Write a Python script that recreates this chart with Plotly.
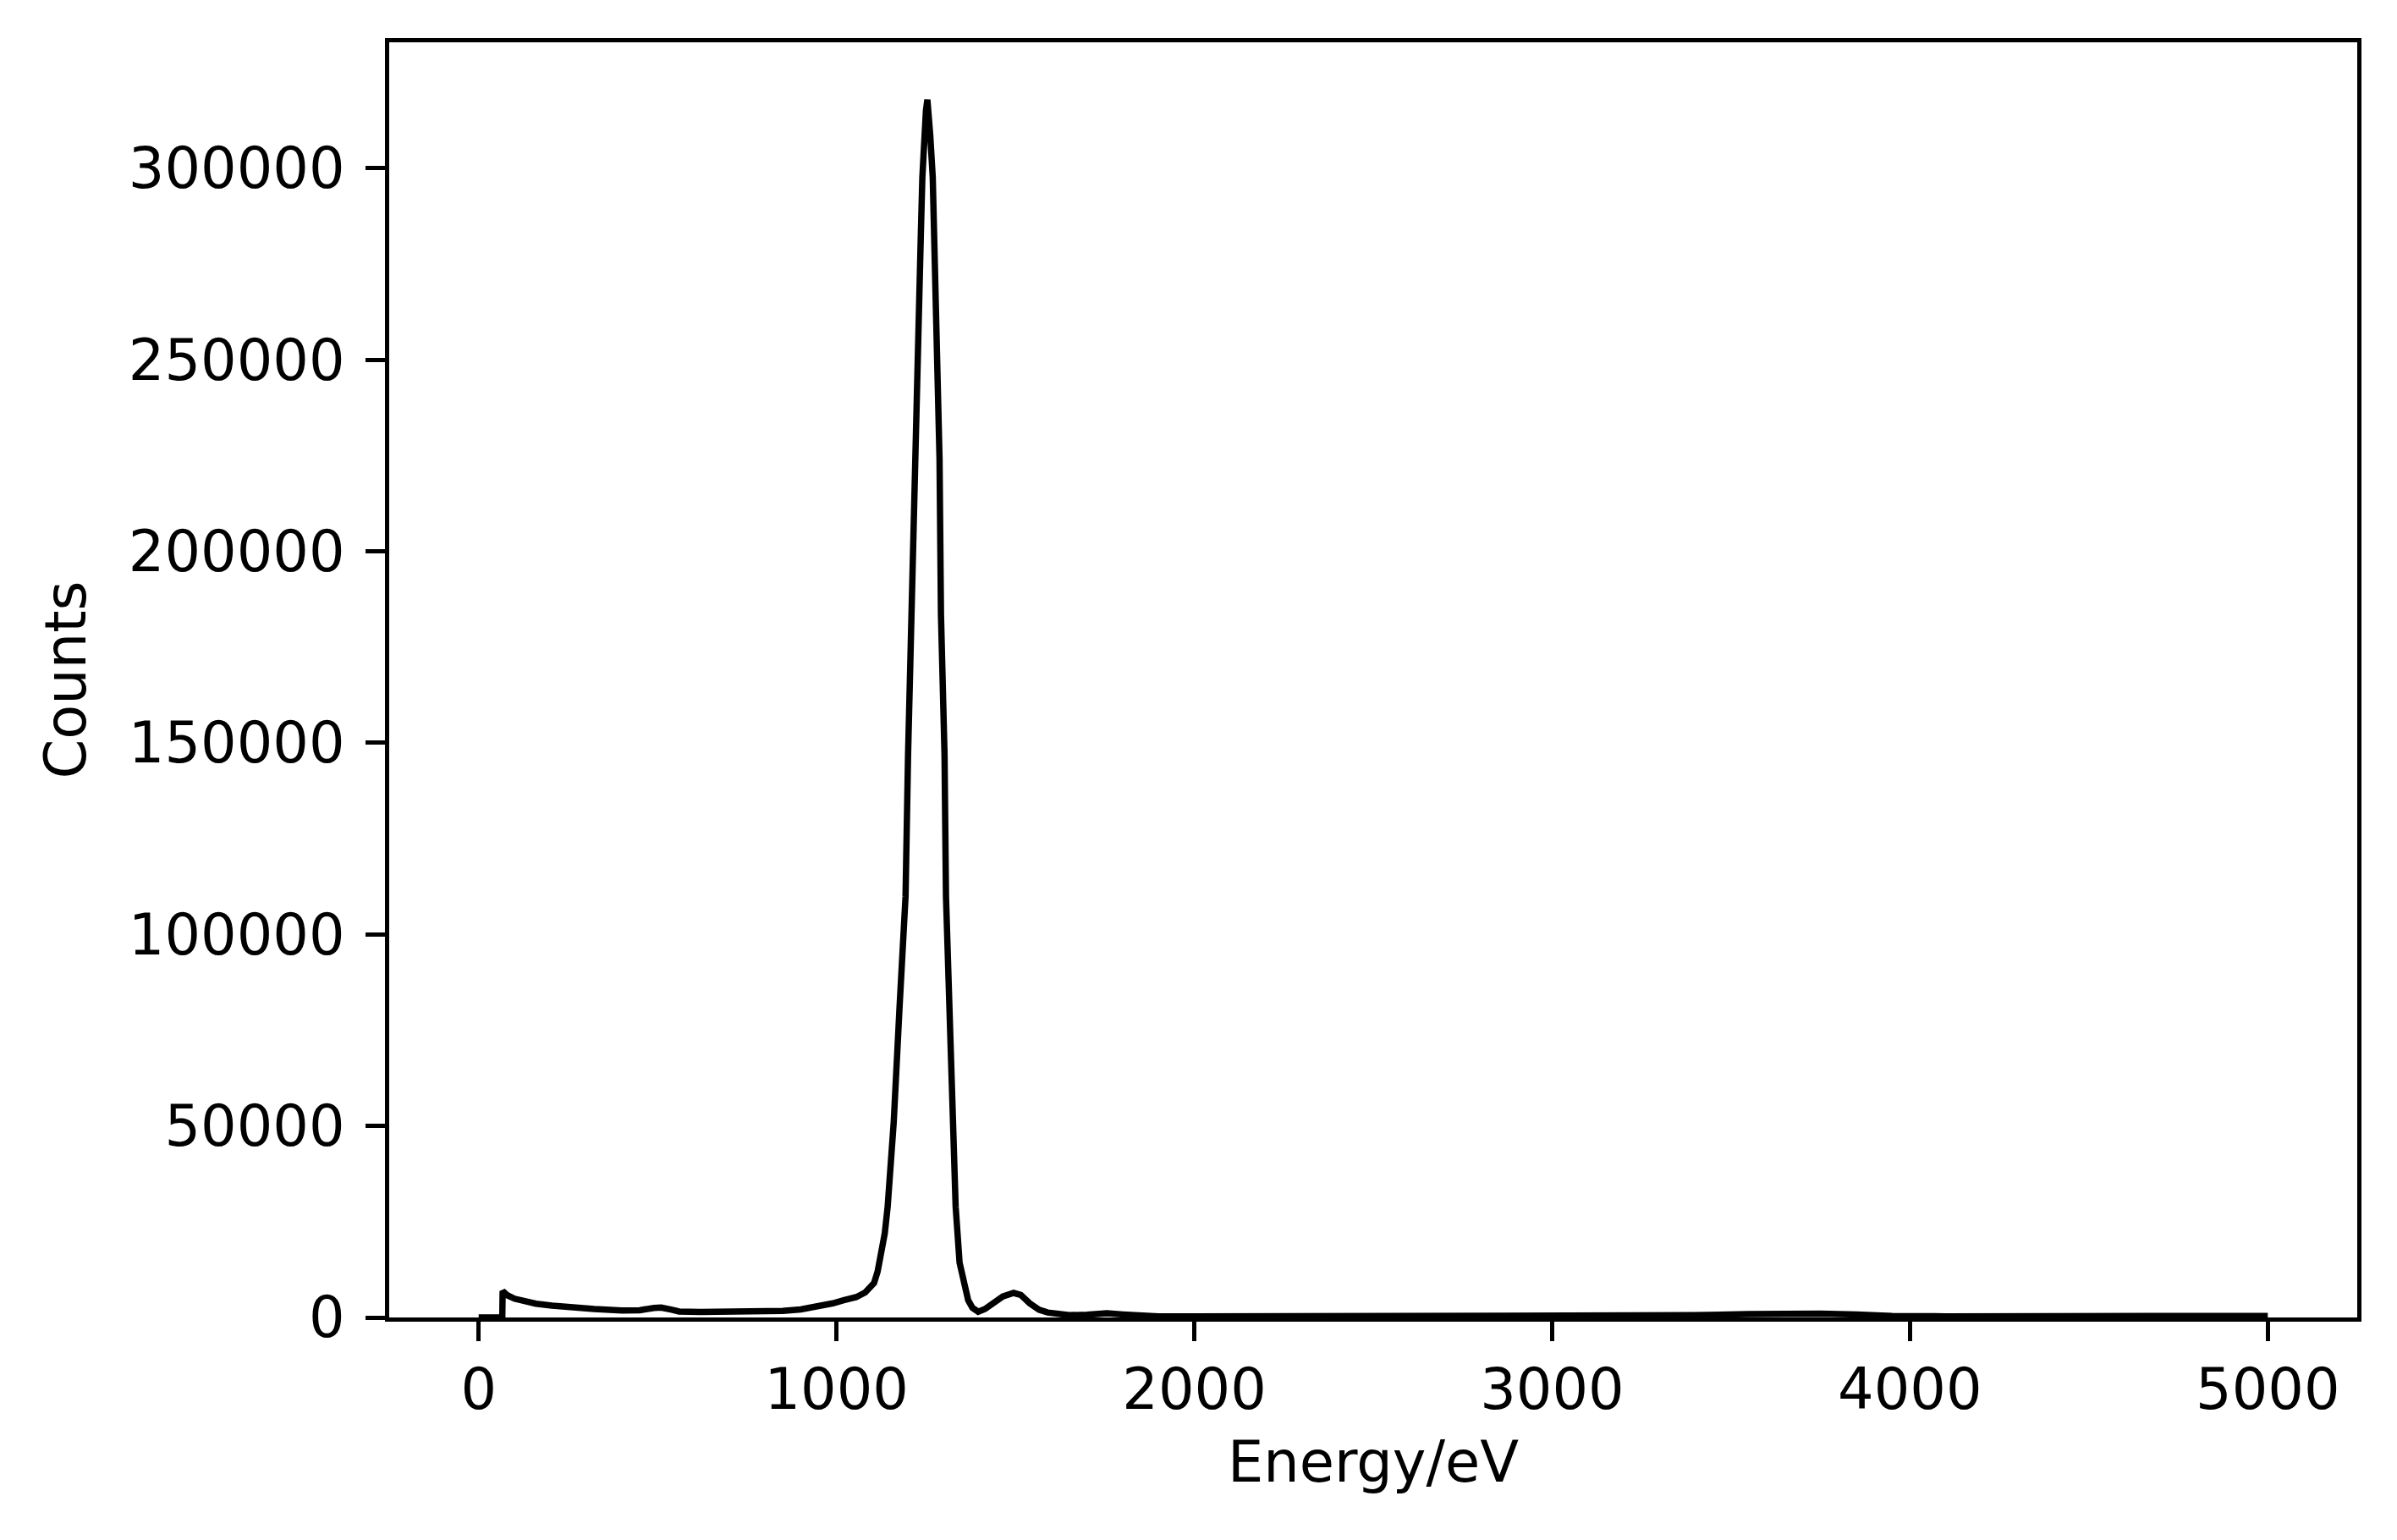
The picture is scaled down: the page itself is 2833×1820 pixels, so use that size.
import plotly.graph_objects as go

# Energy (eV) and counts
energy = [0, 66, 67, 80, 100, 127, 160, 205, 260, 323, 400, 450, 490, 510, 540, 560,
          620, 680, 740, 800, 850, 900, 950, 990, 1020, 1055, 1080, 1095, 1105, 1115,
          1125, 1135, 1143, 1160, 1176, 1193, 1200, 1209, 1217, 1224, 1228, 1236, 1240,
          1245, 1250, 1254, 1258, 1262, 1269, 1273, 1278, 1283, 1288, 1292, 1302, 1306,
          1316, 1325, 1333, 1344, 1356, 1368, 1380, 1396, 1415, 1440, 1465, 1495, 1515,
          1540, 1566, 1590, 1614, 1650, 1700, 1756, 1800, 1850, 1900, 2000, 2150, 2300,
          2450, 2600, 2800, 3000, 3200, 3400, 3550, 3650, 3750, 3850, 3950, 4100, 4400,
          4700, 4850, 5000]
counts = [0, 0, 6900, 5800, 4900, 4200, 3600, 3100, 2600, 2200, 1800, 1900, 2500, 2600,
          2000, 1550, 1450, 1450, 1450, 1500, 1700, 2100, 2800, 3700, 4500, 5300, 6500,
          8000, 9000, 12000, 16500, 22000, 28900, 51000, 80600, 109900, 146800, 183400,
          224100, 245300, 266000, 283700, 297600, 308600, 315000, 317900, 314000, 308600,
          297600, 283700, 266000, 245300, 224100, 183400, 146800, 109900, 80600, 51000,
          28900, 14300, 8400, 4500, 2500, 1500, 2200, 3900, 5500, 6400, 5900, 3700, 2000,
          1300, 1000, 600, 700, 1100, 800, 400, 300, 250, 250, 600, 350, 250, 250, 300,
          400, 600, 900, 1100, 1000, 800, 400, 300, 300, 400, 450, 400]

x_ticks = [0, 1000, 2000, 3000, 4000, 5000]
y_ticks = [0, 50000, 100000, 150000, 200000, 250000, 300000]

fig = go.Figure()
fig.add_trace(go.Scatter(x=energy, y=counts, mode="lines",
                         line=dict(color="black", width=7.5), showlegend=False))

font = dict(family="DejaVu Sans", size=67, color="black")
axis_common = dict(showgrid=False, zeroline=False, showline=True, linecolor="black",
                   linewidth=5, mirror=True, ticks="outside", ticklen=23, tickwidth=5,
                   tickcolor="black", tickfont=font)

fig.update_layout(
    width=2833, height=1820,
    margin=dict(l=452, r=55, t=42, b=271),
    paper_bgcolor="white", plot_bgcolor="white",
    font=font,
    xaxis=dict(range=[-250, 5250], tickvals=x_ticks, ticktext=[str(v) for v in x_ticks],
               title=dict(text="Energy/eV", font=font, standoff=25), **axis_common),
    yaxis=dict(range=[0, 332850], tickvals=y_ticks, ticktext=[str(v) for v in y_ticks],
               ticklabelstandoff=11,
               title=dict(text="Counts", font=font, standoff=30), **axis_common),
)

fig.write_html("out.html")
